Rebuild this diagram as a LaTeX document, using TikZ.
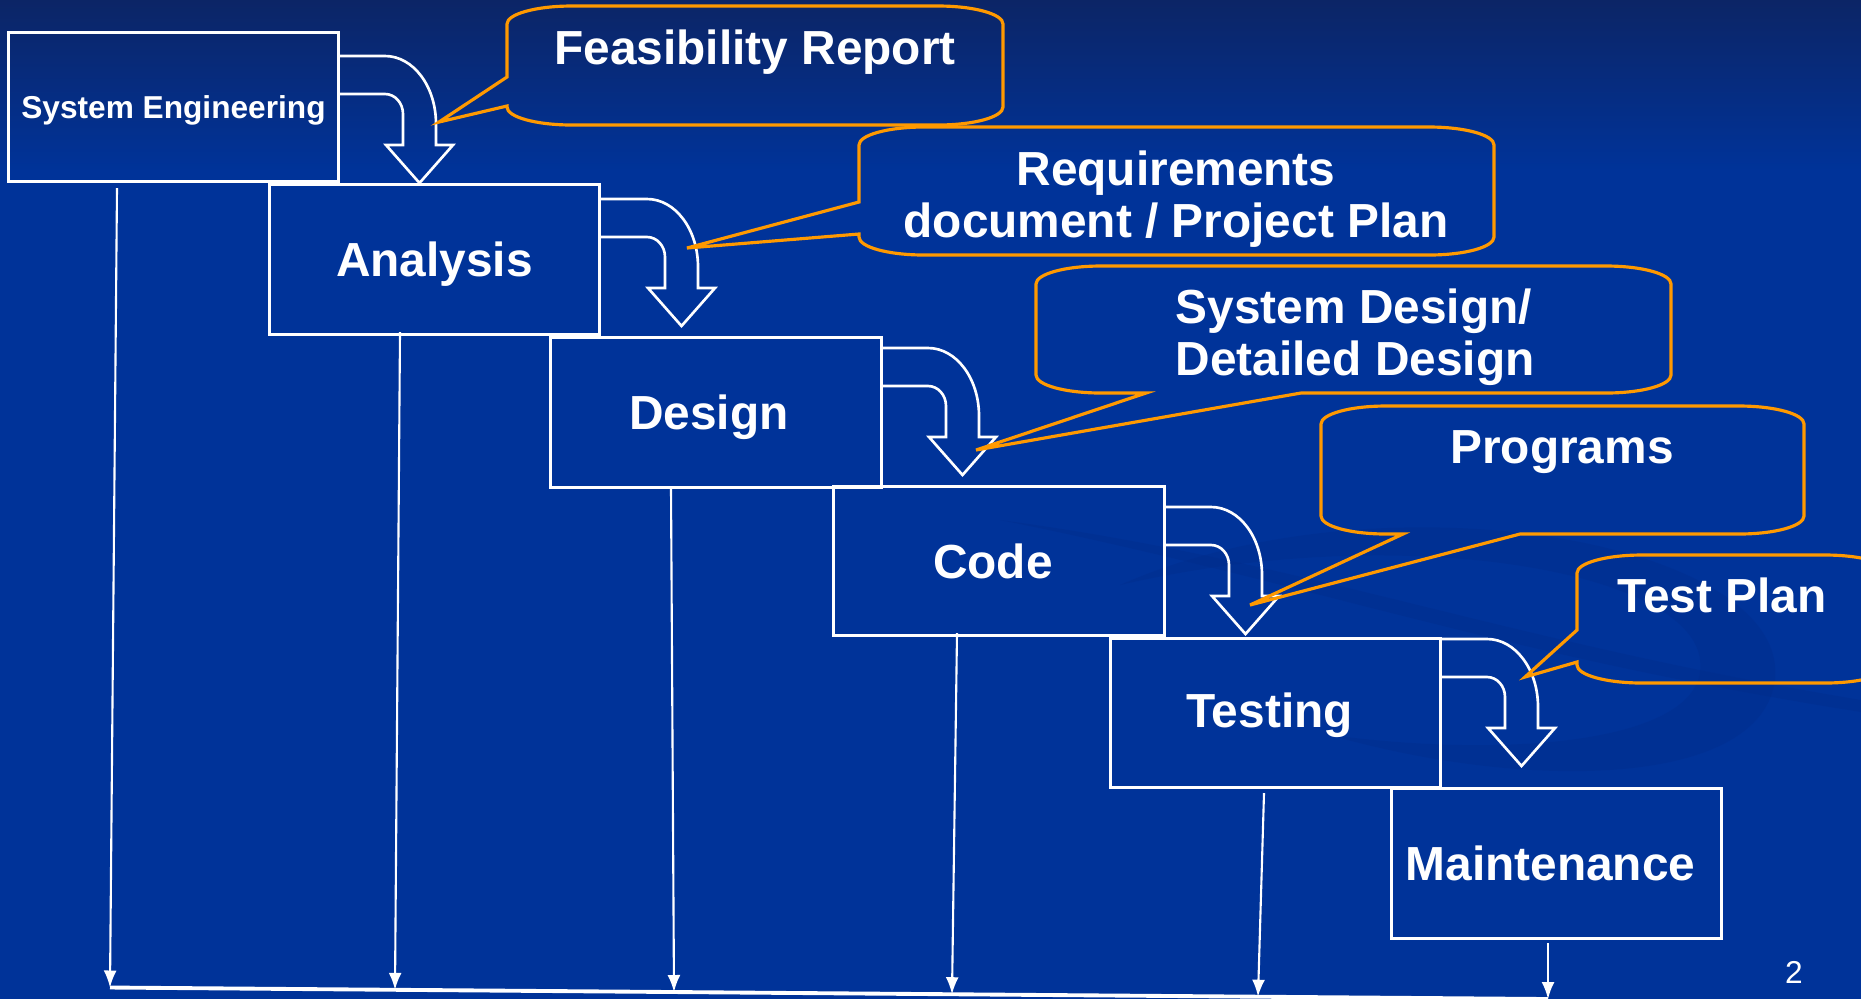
\documentclass[tikz,border=0pt]{standalone}
\usepackage{fontspec}
\setmainfont{Liberation Sans}
\usetikzlibrary{arrows.meta}
\definecolor{bgblue}{RGB}{0,51,153}
\definecolor{bgtop}{RGB}{12,37,102}
\definecolor{swirlc}{RGB}{0,44,138}
\definecolor{orng}{RGB}{255,153,0}
\newcommand{\stagefont}{\fontsize{13.6}{14.8}\selectfont\bfseries}
% bent arrow: #1 = x of box right edge, #2 = y of arrow top
\newcommand{\bentarrow}[2]{%
  \draw[bent] (#1,#2) -- ({#1+47},#2)
    .. controls ({#1+75},#2) and ({#1+98},{#2+30}) .. ({#1+98},{#2+68})
    -- ({#1+98},{#2+89}) -- ({#1+115},{#2+89}) -- ({#1+81.5},{#2+127})
    -- ({#1+48},{#2+89}) -- ({#1+65},{#2+89}) -- ({#1+65},{#2+58})
    .. controls ({#1+65},{#2+47}) and ({#1+57},{#2+38}) .. ({#1+47},{#2+38})
    -- (#1,{#2+38});}
% callout with pointer on the left side
\newcommand{\calloutL}[8]{%
  \draw[callout] (#1,{#2+18}) -- (#1,#5) -- (#7,#8) -- (#1,#6) -- (#1,{#4-18})
    .. controls (#1,{#4-8}) and ({#1+29},#4) .. ({#1+65},#4) -- ({#3-65},#4)
    .. controls ({#3-29},#4) and (#3,{#4-8}) .. (#3,{#4-18}) -- (#3,{#2+18})
    .. controls (#3,{#2+8}) and ({#3-29},#2) .. ({#3-65},#2) -- ({#1+65},#2)
    .. controls ({#1+29},#2) and (#1,{#2+8}) .. (#1,{#2+18}) -- cycle;}
% callout with pointer on the bottom side
\newcommand{\calloutB}[8]{%
  \draw[callout] (#1,{#2+18}) -- (#1,{#4-18})
    .. controls (#1,{#4-8}) and ({#1+29},#4) .. ({#1+65},#4) -- (#5,#4) -- (#7,#8) -- (#6,#4) -- ({#3-65},#4)
    .. controls ({#3-29},#4) and (#3,{#4-8}) .. (#3,{#4-18}) -- (#3,{#2+18})
    .. controls (#3,{#2+8}) and ({#3-29},#2) .. ({#3-65},#2) -- ({#1+65},#2)
    .. controls ({#1+29},#2) and (#1,{#2+8}) .. (#1,{#2+18}) -- cycle;}
\begin{document}
\begin{tikzpicture}[x=0.01cm,y=-0.01cm,
  stage/.style={draw=white,line width=0.85pt,minimum width=3.3cm,minimum height=1.49cm,inner sep=0pt},
  stagetext/.style={text=white,font=\stagefont,inner sep=0pt},
  bent/.style={draw=white,line width=0.75pt,line join=miter},
  callout/.style={draw=orng,line width=0.9pt,line join=miter},
  ctext/.style={text=white,font=\stagefont,inner sep=0pt},
  flow/.style={draw=white,line width=0.6pt,-{Latex[length=0.17cm,width=0.13cm]}},
  base/.style={draw=white,line width=1.1pt},
  swirl/.style={fill=swirlc,fill opacity=0.35}]
\useasboundingbox (0,0) rectangle (1861,999);
\clip (0,0) rectangle (1861,999);
% background
\shade[top color=bgtop,bottom color=bgblue] (0,0) rectangle (1861,170);
\fill[bgblue] (0,169) rectangle (1861,999);
% faint background swirl
\fill[swirl] (1120,585) .. controls (1380,470) and (1790,540) .. (1775,680)
  .. controls (1760,790) and (1520,790) .. (1330,735)
  .. controls (1520,760) and (1710,740) .. (1700,660)
  .. controls (1690,570) and (1400,520) .. (1120,585) -- cycle;
\fill[swirl] (1000,520) .. controls (1300,560) and (1500,640) .. (1861,700)
  -- (1861,712) .. controls (1500,655) and (1300,580) .. (1000,520) -- cycle;

% bent arrows
\bentarrow{338}{56}
\bentarrow{600}{199}
\bentarrow{881}{348}
\bentarrow{1164}{507}
\bentarrow{1440}{639}

% stage boxes
\node[stage] (se) at (173.5,107) {};
\node[stage] (an) at (434.5,259.5) {};
\node[stage] (de) at (716,412.5) {};
\node[stage] (co) at (999,561) {};
\node[stage] (te) at (1275.5,713) {};
\node[stage] (ma) at (1556.5,863.5) {};
\node[stagetext,font=\fontsize{9}{11}\selectfont\bfseries] at ([yshift=-0.03cm]se.center) {System Engineering};
\node[stagetext] at ([yshift=-0.05cm]an.center) {Analysis};
\node[stagetext] at ([xshift=-0.07cm,yshift=-0.05cm]de.center) {Design};
\node[stagetext] at ([xshift=-0.06cm]co.center) {Code};
\node[stagetext] at ([xshift=-0.06cm,yshift=-0.02cm]te.center) {Testing};
\node[stagetext] at ([xshift=-0.06cm]ma.center) {Maintenance};

% callouts
\calloutL{507}{6}{1003}{125}{77}{106}{439}{122}
\calloutL{859}{127}{1494}{255}{202}{234}{687}{248}
\calloutB{1036}{266}{1671}{393}{1146}{1301}{976}{450}
\calloutB{1321}{406}{1804}{534}{1403}{1520}{1250}{605}
\calloutL{1577}{555}{1890}{683}{630}{662}{1525}{677}

\node[ctext] (fr) at (755,52) {Feasibility Report};
\node[ctext,align=center] (rq) at (1176,199) {Requirements\\document / Project Plan};
\node[ctext,align=left,anchor=west] (sd) at (1175,337) {System Design/\\Detailed Design};
\node[ctext] (pg) at (1562,452) {Programs};
\node[ctext] (tp) at (1722,595) {Test Plan};

% flow lines to the base line
\coordinate (s1) at (117,188);
\coordinate (s2) at (400,332);
\coordinate (s3) at (671,489);
\coordinate (s4) at (957,633);
\coordinate (s5) at (1264,793);
\coordinate (s6) at (1548,943);
\coordinate (b1) at (110,987.5);
\coordinate (b2) at (395,989.8);
\coordinate (b3) at (674,992);
\coordinate (b4) at (952,994.2);
\coordinate (b5) at (1258,996.7);
\coordinate (b6) at (1548,999);
\draw[base] (b1) -- (b6);
\draw[flow] (s1) -- (b1);
\draw[flow] (s2) -- (b2);
\draw[flow] (s3) -- (b3);
\draw[flow] (s4) -- (b4);
\draw[flow] (s5) -- (b5);
\draw[flow] (s6) -- (b6);

\node[text=white,font=\fontsize{9}{11}\selectfont,inner sep=0pt] (pn) at (1794,972) {2};
\end{tikzpicture}
\end{document}
